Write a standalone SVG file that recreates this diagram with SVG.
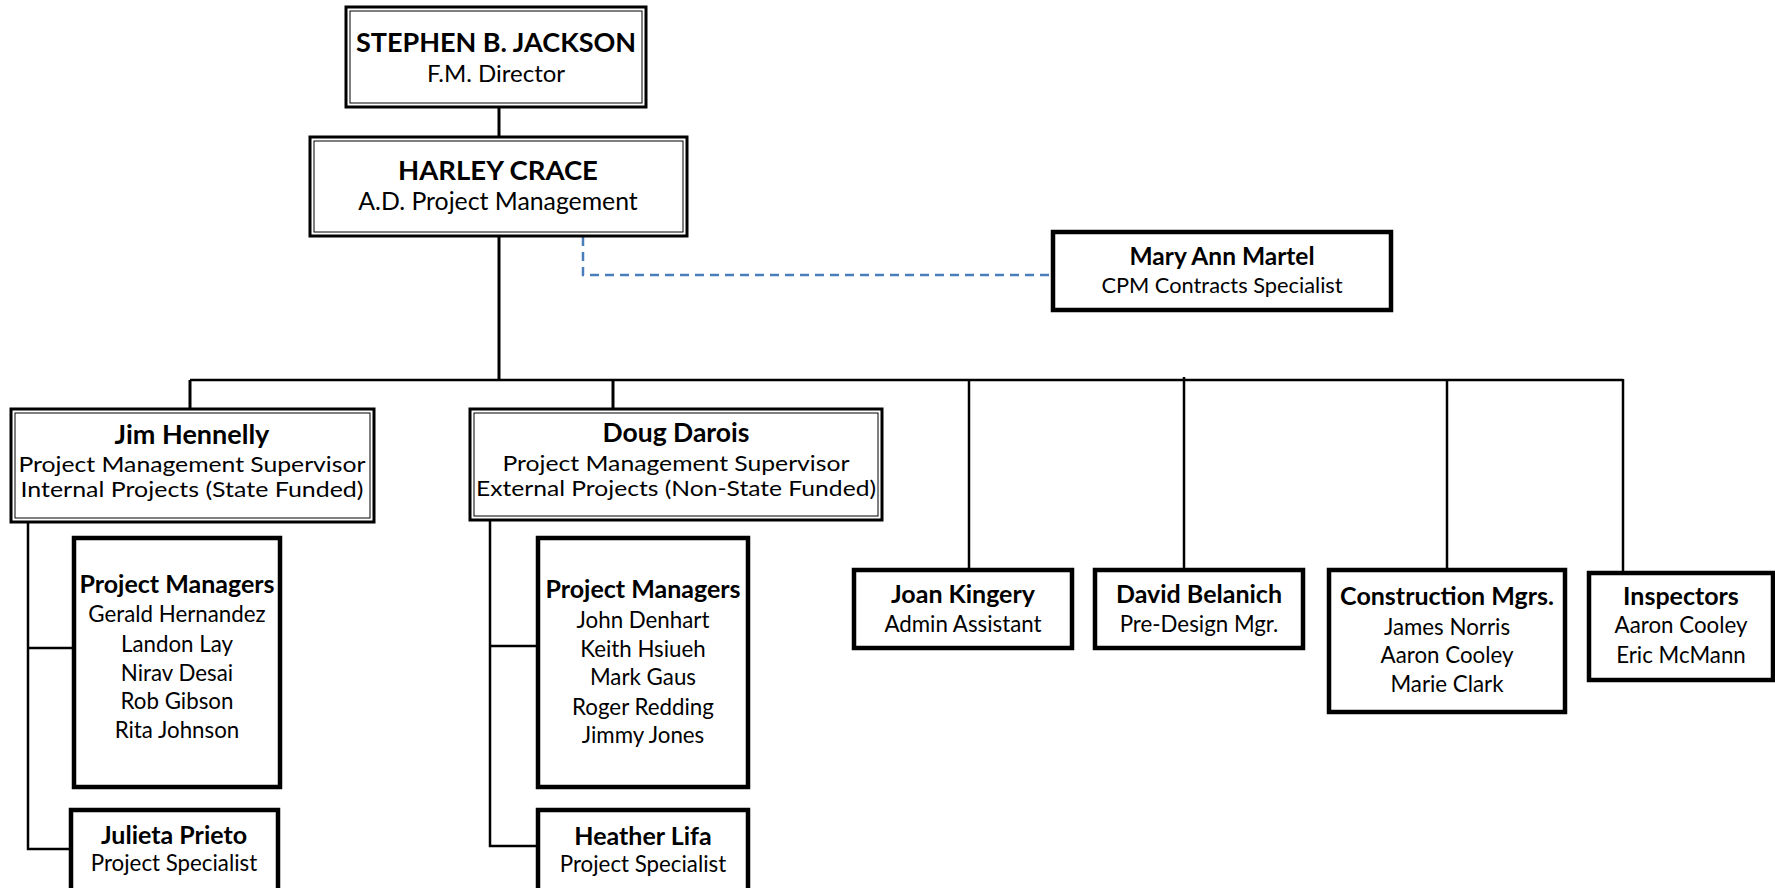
<svg xmlns="http://www.w3.org/2000/svg" width="1775" height="888" viewBox="0 0 1775 888">
<style>
.t{font-family:Lato,"Open Sans","Liberation Sans",sans-serif;text-anchor:middle;fill:#000}
.b{font-weight:bold}
.outer{fill:#fff;stroke:#000;stroke-width:3}
.inner{fill:none;stroke:#000;stroke-width:1}
.thick{fill:#fff;stroke:#000;stroke-width:4.5}
.ln{fill:none;stroke:#000;stroke-width:3}
.ln2{fill:none;stroke:#000;stroke-width:2.5}
.dash{fill:none;stroke:#4a7ebb;stroke-width:2.5;stroke-dasharray:9 6}
.nb{font-size:25px}
.nr{font-size:22.3px}
.sv{font-size:21.5px}
</style>
<rect width="1775" height="888" fill="#fff"/>
<g id="connectors">
<line class="ln" x1="499" y1="107" x2="499" y2="137"/>
<line class="ln" x1="499" y1="236" x2="499" y2="381"/>
<polyline class="dash" points="583,237 583,275 1053,275"/>
<line class="ln2" x1="190" y1="380" x2="1623" y2="380"/>
<line class="ln" x1="190" y1="380" x2="190" y2="408"/>
<line class="ln" x1="613" y1="380" x2="613" y2="409"/>
<line class="ln2" x1="969" y1="380" x2="969" y2="569"/>
<line class="ln2" x1="1184" y1="377" x2="1184" y2="569"/>
<line class="ln2" x1="1447" y1="380" x2="1447" y2="569"/>
<line class="ln2" x1="1623" y1="379" x2="1623" y2="572"/>
<polyline class="ln2" points="28,522 28,849 70,849"/>
<line class="ln2" x1="28" y1="648" x2="73" y2="648"/>
<polyline class="ln2" points="490,520 490,846 537,846"/>
<line class="ln2" x1="490" y1="646" x2="537" y2="646"/>
</g>
<g id="stephen">
<rect class="outer" x="346" y="7" width="300" height="100"/>
<rect class="inner" x="350" y="11" width="292" height="92"/>
<text class="t b" x="496" y="52" font-size="27">STEPHEN B. JACKSON</text>
<text class="t" x="496" y="82" font-size="24">F.M. Director</text>
</g>
<g id="harley">
<rect class="outer" x="310" y="137" width="377" height="99"/>
<rect class="inner" x="314" y="141" width="369" height="91"/>
<text class="t b" x="498" y="180" font-size="27.5">HARLEY CRACE</text>
<text class="t" x="498" y="210" font-size="24.8">A.D. Project Management</text>
</g>
<g id="maryann">
<rect class="thick" x="1053" y="232" width="338" height="78"/>
<text class="t b" x="1222" y="265" font-size="24.5">Mary Ann Martel</text>
<text class="t" x="1222" y="293" font-size="21.8">CPM Contracts Specialist</text>
</g>
<g id="jim">
<rect class="outer" x="11" y="409" width="363" height="113"/>
<rect class="inner" x="15" y="413" width="355" height="105"/>
<text class="t b" x="192" y="444" font-size="27">Jim Hennelly</text>
<text class="t sv" x="192" y="472" textLength="347" lengthAdjust="spacingAndGlyphs">Project Management Supervisor</text>
<text class="t sv" x="192" y="497" textLength="343" lengthAdjust="spacingAndGlyphs">Internal Projects (State Funded)</text>
</g>
<g id="doug">
<rect class="outer" x="470" y="409" width="412" height="111"/>
<rect class="inner" x="474" y="413" width="404" height="103"/>
<text class="t b" x="676" y="442" font-size="26.5">Doug Darois</text>
<text class="t sv" x="676" y="471" textLength="347" lengthAdjust="spacingAndGlyphs">Project Management Supervisor</text>
<text class="t sv" x="676" y="496" textLength="400" lengthAdjust="spacingAndGlyphs">External Projects (Non-State Funded)</text>
</g>
<g id="pm1">
<rect class="thick" x="74" y="538" width="206" height="249"/>
<text class="t b nb" x="177" y="593">Project Managers</text>
<text class="t nr" x="177" y="622">Gerald Hernandez</text>
<text class="t nr" x="177" y="652">Landon Lay</text>
<text class="t nr" x="177" y="681">Nirav Desai</text>
<text class="t nr" x="177" y="709">Rob Gibson</text>
<text class="t nr" x="177" y="738">Rita Johnson</text>
</g>
<g id="julieta">
<rect class="thick" x="71" y="810" width="207" height="90"/>
<text class="t b nb" x="174" y="844">Julieta Prieto</text>
<text class="t nr" x="174" y="871">Project Specialist</text>
</g>
<g id="pm2">
<rect class="thick" x="538" y="538" width="210" height="249"/>
<text class="t b nb" x="643" y="598">Project Managers</text>
<text class="t nr" x="643" y="628">John Denhart</text>
<text class="t nr" x="643" y="657">Keith Hsiueh</text>
<text class="t nr" x="643" y="685">Mark Gaus</text>
<text class="t nr" x="643" y="715">Roger Redding</text>
<text class="t nr" x="643" y="743">Jimmy Jones</text>
</g>
<g id="heather">
<rect class="thick" x="538" y="810" width="210" height="90"/>
<text class="t b nb" x="643" y="845">Heather Lifa</text>
<text class="t nr" x="643" y="872">Project Specialist</text>
</g>
<g id="joan">
<rect class="thick" x="854" y="570" width="218" height="78"/>
<text class="t b nb" x="963" y="603">Joan Kingery</text>
<text class="t nr" x="963" y="632">Admin Assistant</text>
</g>
<g id="david">
<rect class="thick" x="1095" y="570" width="208" height="78"/>
<text class="t b nb" x="1199" y="603">David Belanich</text>
<text class="t nr" x="1199" y="632">Pre-Design Mgr.</text>
</g>
<g id="construction">
<rect class="thick" x="1329" y="570" width="236" height="142"/>
<text class="t b nb" x="1447" y="605">Construction Mgrs.</text>
<text class="t nr" x="1447" y="635">James Norris</text>
<text class="t nr" x="1447" y="663">Aaron Cooley</text>
<text class="t nr" x="1447" y="692">Marie Clark</text>
</g>
<g id="inspectors">
<rect class="thick" x="1589" y="573" width="184" height="107"/>
<text class="t b nb" x="1681" y="605">Inspectors</text>
<text class="t nr" x="1681" y="633">Aaron Cooley</text>
<text class="t nr" x="1681" y="663">Eric McMann</text>
</g>
</svg>
